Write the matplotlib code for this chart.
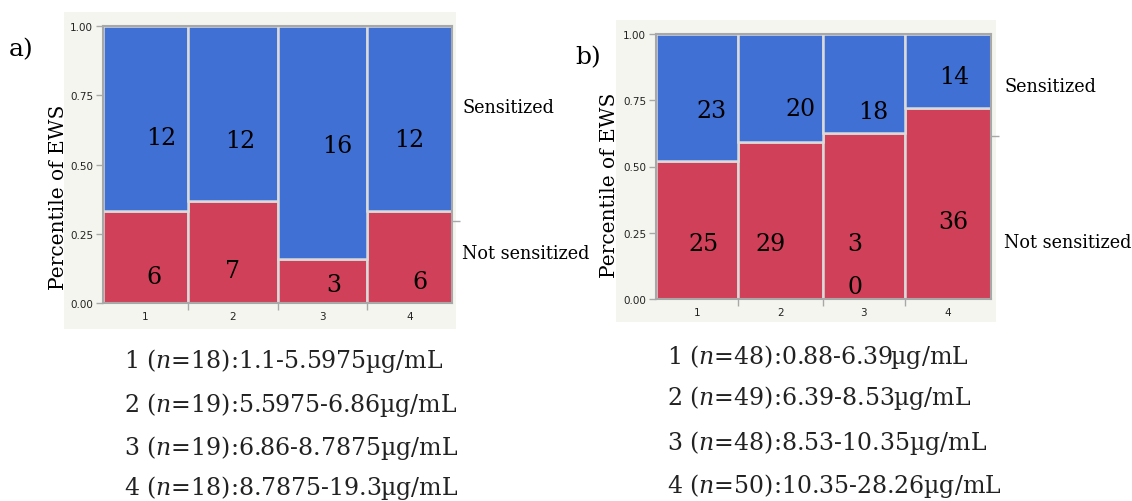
import numpy as np
import matplotlib
matplotlib.use('Agg')
import matplotlib.pyplot as plt
from matplotlib.patches import Rectangle

# ── Data ───────────────────────────────────────────────────────────────────────
GROUPS = ['1', '2', '3', '4']

A_NOT_SENS = [6, 7, 3, 6]
A_SENS     = [12, 12, 16, 12]
A_RANGES = [
    '1 ($\\it{n}$=18):1.1-5.5975µg/mL',
    '2 ($\\it{n}$=19):5.5975-6.86µg/mL',
    '3 ($\\it{n}$=19):6.86-8.7875µg/mL',
    '4 ($\\it{n}$=18):8.7875-19.3µg/mL',
]

B_NOT_SENS = [25, 29, 30, 36]
B_SENS     = [23, 20, 18, 14]
B_RANGES = [
    '1 ($\\it{n}$=48):0.88-6.39µg/mL',
    '2 ($\\it{n}$=49):6.39-8.53µg/mL',
    '3 ($\\it{n}$=48):8.53-10.35µg/mL',
    '4 ($\\it{n}$=50):10.35-28.26µg/mL',
]

# ── Style ──────────────────────────────────────────────────────────────────────
W, H = 1132, 502
BLUE = '#4170d4'
RED = '#d04058'
PANEL_BG = '#f5f5f0'
FRAME = '#a8a8a8'
SERIF = 'DejaVu Serif'

plt.rcParams['mathtext.fontset'] = 'dejavuserif'
plt.rcParams['font.family'] = SERIF

# label positions (axes fraction) for counts, per panel: sensitized then not
A_POS_SENS = [(0.166, 0.599), (0.393, 0.585), (0.670, 0.570), (0.877, 0.592)]
A_POS_NOT  = [(0.146, 0.097), (0.372, 0.119), (0.662, 0.065), (0.908, 0.076)]
B_POS_SENS = [(0.167, 0.713), (0.430, 0.717), (0.648, 0.706), (0.890, 0.838)]
B_POS_NOT  = [(0.143, 0.211), (0.343, 0.211), (0.594, 0.128), (0.887, 0.291)]


def px_rect(x0, y0, x1, y1):
    # pixel box (top-left origin) -> figure fraction [l, b, w, h]
    return [x0 / W, 1 - y1 / H, (x1 - x0) / W, (y1 - y0) / H]


def mosaic(fig, box, bg_box, not_sens, sens, pos_sens, pos_not,
           lab_x, lab_y_sens, lab_y_not, wrap_long=False):
    bg = Rectangle(bg_box[:2], bg_box[2], bg_box[3], transform=fig.transFigure,
                   facecolor=PANEL_BG, edgecolor='none', zorder=-5)
    fig.patches.append(bg)

    ax = fig.add_axes(box)
    ax.set_facecolor(PANEL_BG)
    not_sens = np.array(not_sens, float)
    sens = np.array(sens, float)
    n = not_sens + sens
    widths = n / n.sum()
    lefts = np.concatenate([[0], np.cumsum(widths)[:-1]])
    frac_not = not_sens / n

    ax.bar(lefts, frac_not, width=widths, align='edge', color=RED,
           edgecolor='#dadada', linewidth=1.8)
    ax.bar(lefts, 1 - frac_not, bottom=frac_not, width=widths, align='edge',
           color=BLUE, edgecolor='#dadada', linewidth=1.8)

    ax.set_xlim(0, 1)
    ax.set_ylim(0, 1)
    ax.set_xticks(lefts + widths / 2)
    ax.set_xticklabels(GROUPS)
    ax.set_xticks(lefts[1:], minor=True)
    ax.tick_params(axis='x', which='major', length=0, pad=6,
                   labelsize=7.5, labelfontfamily='DejaVu Sans', labelcolor='#222222')
    ax.tick_params(axis='x', which='minor', length=5, color=FRAME, width=1)
    ax.set_yticks([0, 0.25, 0.5, 0.75, 1.0])
    ax.set_yticklabels(['0.00', '0.25', '0.50', '0.75', '1.00'])
    ax.tick_params(axis='y', length=5, color=FRAME, width=1, pad=2,
                   labelsize=7.5, labelfontfamily='DejaVu Sans', labelcolor='#222222')
    for sp in ax.spines.values():
        sp.set_color(FRAME)
        sp.set_linewidth(1.5)

    # marginal tick on the right side
    ax2 = ax.twinx()
    ax2.set_ylim(0, 1)
    ax2.set_yticks([not_sens.sum() / n.sum()])
    ax2.set_yticklabels([])
    ax2.tick_params(axis='y', length=6, color=FRAME, width=1)
    for sp in ax2.spines.values():
        sp.set_visible(False)

    ax.set_ylabel('Percentile of EWS', fontsize=14.5, labelpad=4)

    for v, (x, y) in zip(sens, pos_sens):
        ax.text(x, y, str(int(v)), transform=ax.transAxes, ha='center',
                va='center', fontsize=17)
    for v, (x, y) in zip(not_sens, pos_not):
        s = str(int(v))
        if wrap_long and v == 30:
            s = '\n'.join(s)
        ax.text(x, y, s, transform=ax.transAxes, ha='center', va='center',
                fontsize=17, linespacing=2.1)

    ax.text(lab_x, lab_y_sens, 'Sensitized', transform=ax.transAxes,
            ha='left', va='center', fontsize=12.7)
    ax.text(lab_x, lab_y_not, 'Not sensitized', transform=ax.transAxes,
            ha='left', va='center', fontsize=12.7)
    return ax


fig = plt.figure(figsize=(W / 100, H / 100), dpi=100)
fig.patch.set_facecolor('white')

ax_a = mosaic(fig, px_rect(103, 27, 452, 304), px_rect(64, 13, 456, 330),
              A_NOT_SENS, A_SENS, A_POS_SENS, A_POS_NOT,
              1.029, 0.708, 0.181)
ax_a.yaxis.set_label_coords(-0.10, 0.386)

ax_b = mosaic(fig, px_rect(656, 35, 991, 300), px_rect(616, 21, 996, 323),
              B_NOT_SENS, B_SENS, B_POS_SENS, B_POS_NOT,
              1.039, 0.804, 0.215, wrap_long=True)
ax_b.yaxis.set_label_coords(-0.109, 0.434)

fig.text(21 / W, 1 - 50 / H, 'a)', ha='center', va='center', fontsize=18)
fig.text(588 / W, 1 - 58 / H, 'b)', ha='center', va='center', fontsize=18)

for i, s in enumerate(A_RANGES):
    y = [361, 405, 448, 488][i]
    fig.text(124 / W, 1 - y / H, s, ha='left', va='center', fontsize=17,
             color='#222222')
for i, s in enumerate(B_RANGES):
    y = [357, 398, 443, 486][i]
    fig.text(667 / W, 1 - y / H, s, ha='left', va='center', fontsize=17,
             color='#222222')

fig.savefig('out.png', dpi=100)
